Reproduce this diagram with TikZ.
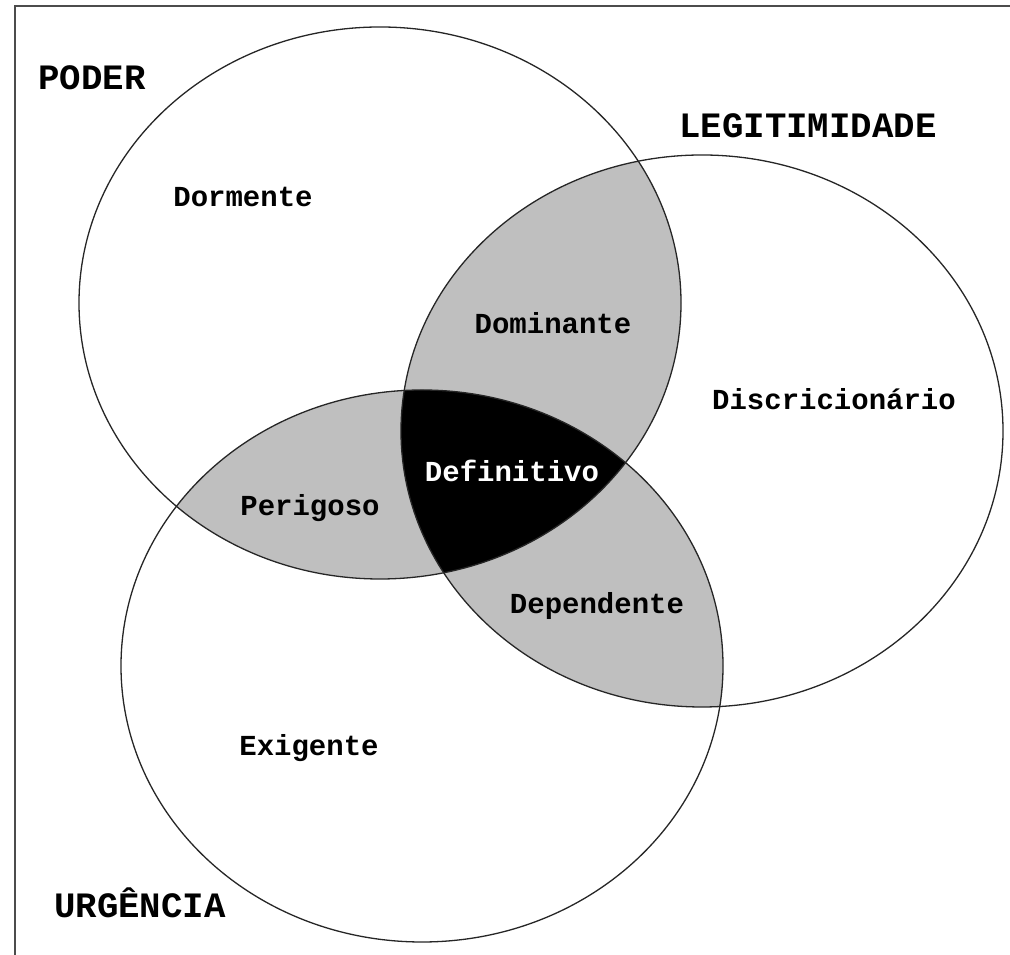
\documentclass[tikz,border=0pt]{standalone}
\usepackage{fontspec}
\setmonofont{Liberation Mono}
\tikzstyle{every node}=[anchor=base,inner sep=0pt]
\tikzstyle{attribute}=[font=\ttfamily\bfseries\fontsize{35.7}{36}\selectfont]
\tikzstyle{stakeholder}=[font=\ttfamily\bfseries\fontsize{29}{29}\selectfont]
\tikzstyle{outline}=[draw=black!85,line width=1.3pt]
\tikzstyle{overlap}=[fill=black!25]
\tikzstyle{frame}=[draw=black!70,line width=2pt]

\begin{document}
\begin{tikzpicture}[x=1pt,y=1pt]
  \useasboundingbox (0,0) rectangle (1010,955);
  \draw[frame] (15,0) |- (1010,949);

  \coordinate (poder) at (380,652);
  \coordinate (legit) at (702,524);
  \coordinate (urg) at (422,289);

  % two attributes
  \begin{scope}
    \clip (poder) ellipse [x radius=301,y radius=276];
    \fill[overlap] (legit) ellipse [x radius=301,y radius=276];
    \fill[overlap] (urg) ellipse [x radius=301,y radius=276];
  \end{scope}
  \begin{scope}
    \clip (legit) ellipse [x radius=301,y radius=276];
    \fill[overlap] (urg) ellipse [x radius=301,y radius=276];
  \end{scope}
  % all three
  \begin{scope}
    \clip (poder) ellipse [x radius=301,y radius=276];
    \clip (legit) ellipse [x radius=301,y radius=276];
    \fill[black] (urg) ellipse [x radius=301,y radius=276];
  \end{scope}

  \draw[outline] (poder) ellipse [x radius=301,y radius=276];
  \draw[outline] (legit) ellipse [x radius=301,y radius=276];
  \draw[outline] (urg) ellipse [x radius=301,y radius=276];

  \node[attribute] (poderlabel) at (92,865) {PODER};
  \node[attribute] (legitlabel) at (808,817) {LEGITIMIDADE};
  \node[attribute] (urglabel) at (140,37) {URGÊNCIA};

  \node[stakeholder] (dormente) at (243,748) {Dormente};
  \node[stakeholder] (dominante) at (553,621) {Dominante};
  \node[stakeholder] (discricionario) at (834,545) {Discricionário};
  \node[stakeholder,text=white] (definitivo) at (512,473) {Definitivo};
  \node[stakeholder] (perigoso) at (310,439) {Perigoso};
  \node[stakeholder] (dependente) at (597,341) {Dependente};
  \node[stakeholder] (exigente) at (309,199) {Exigente};
\end{tikzpicture}
\end{document}
